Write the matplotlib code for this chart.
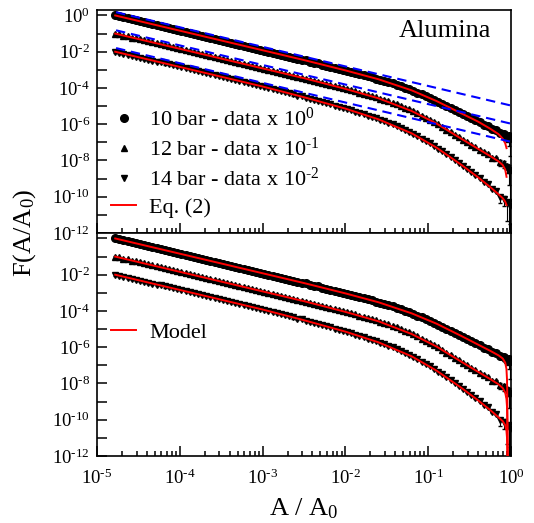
import numpy as np
import matplotlib.pyplot as plt
from matplotlib.lines import Line2D
from matplotlib.ticker import FixedLocator, LogLocator, FuncFormatter, NullFormatter, NullLocator

plt.rcParams['font.family'] = ['Liberation Serif', 'DejaVu Serif']
plt.rcParams['mathtext.fontset'] = 'custom'
plt.rcParams['mathtext.rm'] = 'Liberation Serif'
plt.rcParams['mathtext.it'] = 'Liberation Serif:italic'
plt.rcParams['mathtext.default'] = 'regular'

# data, log10 values (A/A0 and F, already shifted by 10^0, 10^-1, 10^-2)
logA = [-4.78, -4.73, -4.68, -4.63, -4.58, -4.53, -4.48, -4.43, -4.38, -4.33,
        -4.28, -4.23, -4.18, -4.13, -4.08, -4.03, -3.98, -3.93, -3.88, -3.83,
        -3.78, -3.73, -3.68, -3.63, -3.58, -3.53, -3.48, -3.43, -3.38, -3.33,
        -3.28, -3.23, -3.18, -3.13, -3.08, -3.03, -2.98, -2.93, -2.88, -2.83,
        -2.78, -2.73, -2.68, -2.63, -2.58, -2.53, -2.48, -2.43, -2.38, -2.33,
        -2.28, -2.23, -2.18, -2.13, -2.08, -2.03, -1.98, -1.93, -1.88, -1.83,
        -1.78, -1.73, -1.68, -1.63, -1.58, -1.53, -1.48, -1.43, -1.38, -1.33,
        -1.28, -1.23, -1.18, -1.13, -1.08, -1.03, -0.98, -0.93, -0.88, -0.83,
        -0.78, -0.73, -0.68, -0.63, -0.58, -0.53, -0.48, -0.43, -0.38, -0.33,
        -0.28, -0.23, -0.18, -0.13, -0.08, -0.05, -0.03, -0.01]
logF10 = [0.00, -0.05, -0.11, -0.16, -0.22, -0.27, -0.32, -0.38, -0.43, -0.49,
          -0.54, -0.59, -0.65, -0.70, -0.76, -0.81, -0.86, -0.92, -0.97, -1.03,
          -1.08, -1.13, -1.19, -1.24, -1.30, -1.35, -1.40, -1.46, -1.51, -1.57,
          -1.62, -1.67, -1.73, -1.78, -1.84, -1.89, -1.94, -2.00, -2.05, -2.11,
          -2.16, -2.21, -2.27, -2.32, -2.38, -2.43, -2.48, -2.54, -2.60, -2.65,
          -2.71, -2.77, -2.83, -2.88, -2.94, -3.00, -3.05, -3.11, -3.17, -3.23,
          -3.29, -3.35, -3.42, -3.48, -3.55, -3.61, -3.68, -3.75, -3.83, -3.91,
          -3.99, -4.08, -4.17, -4.26, -4.36, -4.45, -4.55, -4.65, -4.76, -4.87,
          -4.99, -5.10, -5.22, -5.33, -5.45, -5.55, -5.66, -5.77, -5.85, -6.02,
          -6.08, -6.25, -6.31, -6.49, -6.55, -6.68, -6.66, -6.78]
logF12 = [-1.00, -1.05, -1.11, -1.16, -1.22, -1.27, -1.32, -1.38, -1.43, -1.49,
          -1.54, -1.59, -1.65, -1.70, -1.76, -1.81, -1.86, -1.92, -1.97, -2.03,
          -2.08, -2.13, -2.19, -2.24, -2.30, -2.35, -2.40, -2.46, -2.51, -2.57,
          -2.62, -2.67, -2.73, -2.78, -2.84, -2.89, -2.94, -3.00, -3.05, -3.11,
          -3.16, -3.21, -3.27, -3.32, -3.38, -3.43, -3.48, -3.54, -3.60, -3.66,
          -3.72, -3.78, -3.84, -3.90, -3.96, -4.01, -4.07, -4.13, -4.19, -4.25,
          -4.32, -4.38, -4.45, -4.52, -4.59, -4.66, -4.73, -4.81, -4.90, -4.99,
          -5.08, -5.18, -5.29, -5.40, -5.52, -5.64, -5.76, -5.88, -6.01, -6.15,
          -6.30, -6.43, -6.57, -6.71, -6.85, -6.98, -7.12, -7.26, -7.40, -7.53,
          -7.62, -7.84, -7.88, -8.10, -8.14, -8.30, -8.36, -8.50]
logF14 = [-2.00, -2.05, -2.11, -2.16, -2.22, -2.27, -2.32, -2.38, -2.43, -2.49,
          -2.54, -2.59, -2.65, -2.70, -2.76, -2.81, -2.86, -2.92, -2.97, -3.03,
          -3.08, -3.13, -3.19, -3.24, -3.30, -3.35, -3.40, -3.46, -3.51, -3.57,
          -3.62, -3.67, -3.73, -3.78, -3.84, -3.89, -3.94, -4.00, -4.06, -4.12,
          -4.18, -4.24, -4.30, -4.36, -4.42, -4.47, -4.53, -4.59, -4.65, -4.71,
          -4.78, -4.84, -4.91, -4.97, -5.04, -5.10, -5.17, -5.24, -5.31, -5.38,
          -5.45, -5.52, -5.60, -5.68, -5.76, -5.84, -5.92, -6.01, -6.11, -6.21,
          -6.32, -6.43, -6.55, -6.67, -6.80, -6.93, -7.06, -7.20, -7.35, -7.50,
          -7.66, -7.82, -7.98, -8.14, -8.31, -8.47, -8.64, -8.81, -8.99, -9.17,
          -9.30, -9.60, -9.70, -10.02, -10.10, -10.35, -10.30, -10.50]
# relative lower errors of the last points (the others are small)
tail10 = [0.3, 0.4, 0.5, 0.7, 0.9]
tail12 = [0.4, 0.5, 0.6, 0.9, 0.999]
tail14 = [0.5, 0.6, 0.9, 0.999, 0.99999]

# Eq. (2) fits
eqA = [-4.78, -4.0, -3.0, -2.5, -2.0, -1.6, -1.2, -0.9, -0.6, -0.4, -0.25, -0.15, -0.10, -0.07, -0.054]
eq10 = [0.0, -0.84, -1.92, -2.46, -3.03, -3.52, -4.13, -4.72, -5.40, -5.85, -6.25, -6.55, -6.8, -7.05, -7.32]
eq12 = [-1.0, -1.84, -2.92, -3.46, -4.05, -4.57, -5.27, -5.96, -6.80, -7.35, -7.76, -8.05, -8.25, -8.5, -8.9]
eq14 = [-2.0, -2.84, -3.92, -4.51, -5.14, -5.73, -6.50, -7.29, -8.24, -8.92, -9.47, -9.87, -10.08, -10.27, -10.46]

# model curves
modA = [-4.78, -4.0, -3.0, -2.5, -2.0, -1.6, -1.2, -0.9, -0.6, -0.4, -0.25, -0.15, -0.10, -0.07,
        -0.055, -0.048, -0.044, -0.040, -0.036]
mod10 = [0.0, -0.84, -1.92, -2.46, -3.03, -3.52, -4.13, -4.70, -5.38, -5.85, -6.2, -6.45, -6.62, -6.85,
         -7.2, -7.8, -9.0, -14, -14]
mod12 = [-1.0, -1.84, -2.92, -3.46, -4.05, -4.57, -5.27, -5.96, -6.80, -7.35, -7.76, -8.05, -8.25, -8.5,
         -8.85, -9.3, -10.2, -11.5, -14]
mod14 = [-2.0, -2.84, -3.92, -4.51, -5.14, -5.73, -6.50, -7.29, -8.24, -8.92, -9.47, -9.87, -10.08, -10.3,
         -10.6, -11.0, -11.6, -12.5, -14]

# pure power laws (blue dashed)
dashA = [-4.77, 0.0]
dash10 = [0.18, -4.97]
dash12 = [-0.82, -5.97]
dash14 = [-1.80, -6.97]

labels = ['10 bar - data x 10$^{\\text{0}}$', '12 bar - data x 10$^{\\text{-1}}$',
          '14 bar - data x 10$^{\\text{-2}}$']
markers = ['o', '^', 'v']
msizes = [5.5, 5.0, 5.0]

A = 10**np.array(logA)


def pow10(e):
    return '10$^{\\text{%d}}$' % e


def draw_data(ax):
    for lf, tail, mk, ms in zip([logF10, logF12, logF14], [tail10, tail12, tail14], markers, msizes):
        F = 10**np.array(lf)
        n = len(F) - len(tail)
        lo = F*np.array([0.12]*n + tail)
        hi = F*np.array([0.12]*n + [0.3]*len(tail))
        ax.errorbar(A, F, yerr=[lo, hi], fmt=mk, ms=ms, color='k', mec='k',
                    ecolor='k', elinewidth=0.8, capsize=1.5, zorder=2)


def style(ax, show_x, skip_top):
    ax.set_xscale('log')
    ax.set_yscale('log')
    ax.set_xlim(1e-5, 1)
    ax.set_ylim(1e-12, 2)
    ax.yaxis.set_major_locator(FixedLocator(10.0**np.arange(-12, 1)))
    ax.yaxis.set_minor_locator(NullLocator())

    def yfmt(v, pos):
        e = int(round(np.log10(v)))
        if e % 2 or (skip_top and e == 0):
            return ''
        return pow10(e)
    ax.yaxis.set_major_formatter(FuncFormatter(yfmt))
    ax.xaxis.set_major_locator(LogLocator(base=10, numticks=10))
    ax.xaxis.set_minor_locator(LogLocator(base=10, subs=np.arange(2, 10), numticks=20))
    ax.xaxis.set_minor_formatter(NullFormatter())
    if show_x:
        ax.xaxis.set_major_formatter(FuncFormatter(lambda v, p: pow10(int(round(np.log10(v))))))
    else:
        ax.xaxis.set_major_formatter(NullFormatter())
    ax.tick_params(which='both', direction='in', top=False, right=False, labelsize=13.5, width=1.1)
    ax.tick_params(which='major', length=7)
    ax.tick_params(axis='y', pad=5)
    ax.tick_params(axis='x', pad=9)
    ax.tick_params(which='minor', length=3.5)
    for s in ax.spines.values():
        s.set_linewidth(1.2)


fig = plt.figure(figsize=(5.34, 5.23), dpi=100)
ax1 = fig.add_axes([97/534, 1-233/523, 414/534, 223/523])
ax2 = fig.add_axes([97/534, 1-456/523, 414/534, 223/523])

# top panel
draw_data(ax1)
for ys in [eq10, eq12, eq14]:
    ax1.plot(10**np.array(eqA), 10**np.array(ys), color='red', lw=1.4, zorder=3)
for ys in [dash10, dash12, dash14]:
    ax1.plot(10**np.array(dashA), 10**np.array(ys), color='blue', lw=1.5, dashes=(4.5, 2.8), zorder=4)
style(ax1, False, False)
ax1.text(0.84, 0.905, 'Alumina', transform=ax1.transAxes, ha='center', va='center', fontsize=19)
handles = [Line2D([], [], ls='none', marker=m, color='k', ms=s) for m, s in zip(markers, msizes)]
handles.append(Line2D([], [], color='red', lw=1.4))
ax1.legend(handles, labels + ['Eq. (2)'], loc='upper left', bbox_to_anchor=(0.035, 0.562),
           frameon=False, fontsize=16, handlelength=1.1, handletextpad=0.6, labelspacing=0.3,
           borderpad=0, borderaxespad=0)

# bottom panel
draw_data(ax2)
for ys in [mod10, mod12, mod14]:
    ax2.plot(10**np.array(modA), 10**np.array(ys), color='red', lw=1.4, zorder=3)
style(ax2, True, True)
ax2.legend([Line2D([], [], color='red', lw=1.4)], ['Model'], loc='upper left',
           bbox_to_anchor=(0.035, 0.60), frameon=False, fontsize=16, handlelength=1.1,
           handletextpad=0.6, borderpad=0, borderaxespad=0)

fig.text(25/534, 1-233/523, 'F(A/A$_0$)', rotation=90, ha='center', va='center', fontsize=19)
fig.text(304/534, 1-509/523, 'A / A$_0$', ha='center', va='center', fontsize=19)

fig.savefig('out.png', dpi=100)
